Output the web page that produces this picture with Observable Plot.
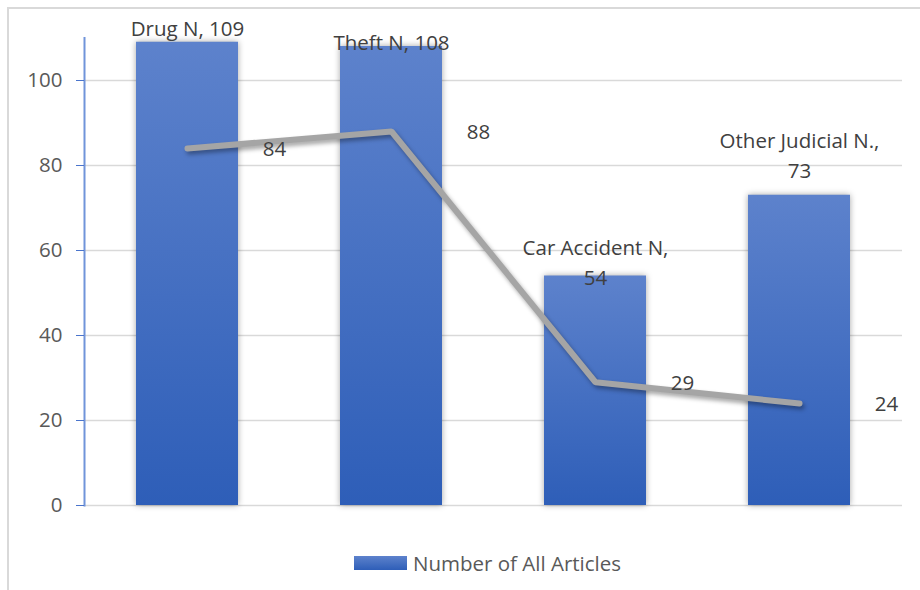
<!DOCTYPE html>
<html><head><meta charset="utf-8">
<script src="https://cdn.jsdelivr.net/npm/d3@7"></script>
<script src="https://cdn.jsdelivr.net/npm/@observablehq/plot@0.6"></script>
<style>
body{margin:0;background:#fff;}
#wrap{position:relative;width:920px;height:590px;overflow:hidden;font-family:"Open Sans",Lato,sans-serif;background:#fff;}
#frame{position:absolute;left:7px;top:7px;width:940px;height:620px;border-left:2px solid #d9d9d9;border-top:2px solid #d9d9d9;}
#chart{position:absolute;left:0;top:0;}
#legend{position:absolute;left:354px;top:551px;height:24px;display:flex;align-items:center;font-size:20.5px;color:#595959;}
#legend .sw{width:53px;height:14px;background:linear-gradient(#5d82cc,#2e5eb8);margin-right:6px;}
</style>
</head><body>
<div id="wrap"><div id="frame"></div><div id="chart"></div>
<div id="legend"><span class="sw"></span><span>Number of All Articles</span></div></div>
<script>
const categories = ["Drug N", "Theft N", "Car Accident N", "Other Judicial N."];
const articleCounts = [109, 108, 54, 73];
const lineValues = [84, 88, 29, 24];
const yTicks = [0, 20, 40, 60, 80, 100];

const rows = categories.map((c, i) => ({
  category: c,
  count: articleCounts[i],
  other: lineValues[i],
  label: c.length > 10 ? `${c},\n${articleCounts[i]}` : `${c}, ${articleCounts[i]}`
}));

// vertical nudges of bar labels as in the reference (style only)
const labelNudge = [-6.5, 3.5, 9, -17.5];

const textColor = "#404040";
const fontSize = 20.5;

const plot = Plot.plot({
  width: 920,
  height: 540,
  marginLeft: 84,
  marginRight: 18,
  marginTop: 37.5,
  marginBottom: 35,
  style: {fontFamily: "'Open Sans', Lato, sans-serif", background: "transparent"},
  x: {domain: categories, paddingInner: 0.5, paddingOuter: 0.25, axis: null},
  y: {domain: [0, 110], axis: null},
  marks: [
    Plot.gridY(yTicks, {stroke: "#d9d9d9", strokeOpacity: 1, strokeWidth: 1.3}),
    Plot.barY(rows, {x: "category", y: "count", fill: "url(#barGrad)"}),
    Plot.frame({anchor: "left", stroke: "#7094da", strokeWidth: 2}),
    Plot.axisY(yTicks, {tickSize: 8, tickPadding: 14, stroke: "#4a74cc", fill: "#595959", fontSize: fontSize, tickFormat: d => d}),
    Plot.line(rows, {x: "category", y: "other", stroke: "#a5a5a5", strokeWidth: 6, strokeLinecap: "round", strokeLinejoin: "miter"}),
    Plot.text(rows, {x: "category", y: "other", text: d => String(d.other), dx: 87, dy: 1, fill: textColor, fontSize: fontSize}),
    ...rows.map((r, i) => Plot.text([r], {x: "category", y: "count", text: "label", lineAnchor: "bottom", lineHeight: 1.46, dy: labelNudge[i], fill: textColor, fontSize: fontSize}))
  ]
});

const svg = d3.select(plot);
const defs = svg.insert("defs", ":first-child");
const grad = defs.append("linearGradient").attr("id", "barGrad").attr("x1", 0).attr("y1", 0).attr("x2", 0).attr("y2", 1);
grad.append("stop").attr("offset", "0%").attr("stop-color", "#5d82cc");
grad.append("stop").attr("offset", "100%").attr("stop-color", "#2e5eb8");
svg.selectAll("g[aria-label=bar]").style("filter", "drop-shadow(0px 0px 3px rgba(0,0,0,0.35))");
svg.selectAll("g[aria-label=line]").style("filter", "drop-shadow(2px 3px 2px rgba(0,0,0,0.35))");

document.getElementById("chart").appendChild(plot);
</script>
</body></html>
